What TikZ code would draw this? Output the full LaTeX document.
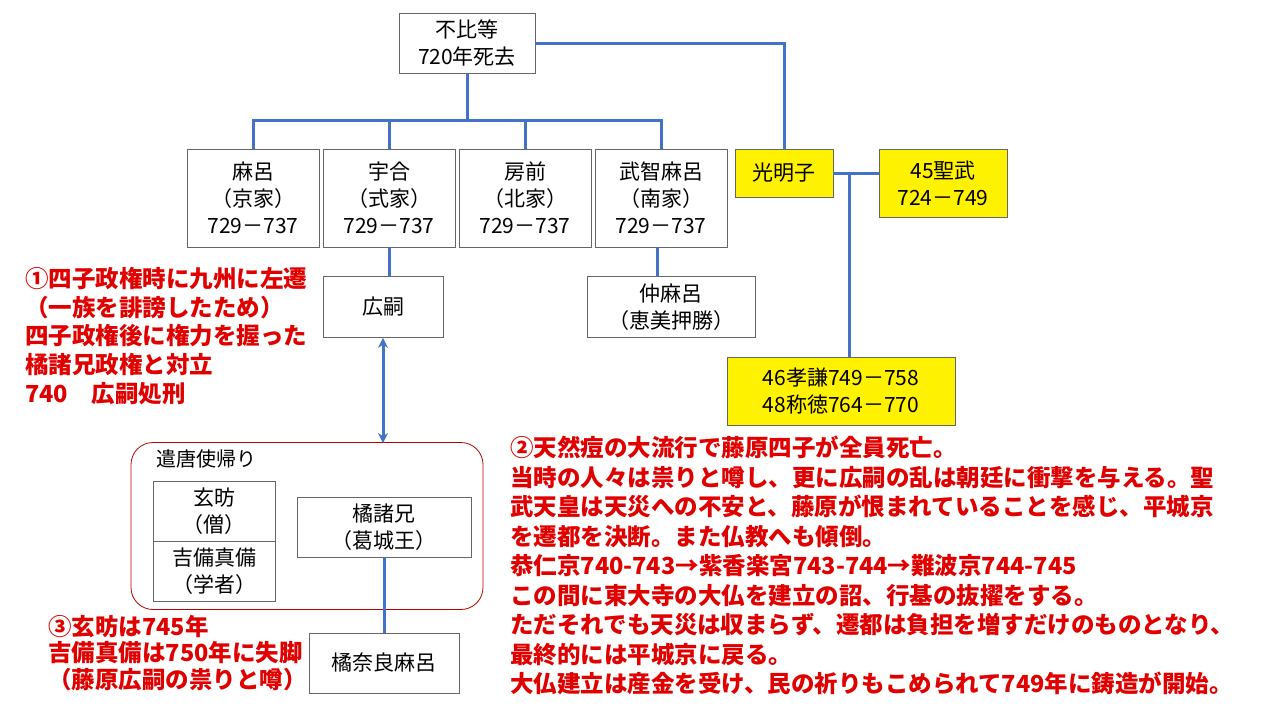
\documentclass[tikz,border=0pt]{standalone}
\usepackage{fontspec}
\setmainfont{Noto Sans CJK JP}
\usetikzlibrary{arrows.meta}
\definecolor{bl}{HTML}{4472C4}
\definecolor{rd}{HTML}{E00000}
\begin{document}
\begin{tikzpicture}[x=1pt,y=-1pt,
 box/.style={draw=black!60,line width=0.8pt,fill=white,align=center,font=\fontsize{21}{27}\selectfont,inner sep=0pt},
 ybox/.style={box,fill=yellow},
 ln/.style={bl,line width=3pt},
 rt/.style={rd,font=\bfseries\fontsize{23.5}{26.5}\selectfont,align=left,anchor=north west,inner sep=0pt}]
\useasboundingbox (0,0) rectangle (1280,720);
\node[box,minimum width=136,minimum height=60] (fh) at (467,43) {不比等\\720年死去};
\node[box,minimum width=132,minimum height=98] (ma) at (253,198) {麻呂\\（京家）\\729－737};
\node[box,minimum width=132,minimum height=98] (um) at (389,198) {宇合\\（式家）\\729－737};
\node[box,minimum width=132,minimum height=98] (fs) at (525,198) {房前\\（北家）\\729－737};
\node[box,minimum width=132,minimum height=98] (mc) at (661,198) {武智麻呂\\（南家）\\729－737};
\node[ybox,minimum width=98,minimum height=48] (km) at (784,173) {光明子};
\node[ybox,minimum width=128,minimum height=68] (sb) at (943,183) {45聖武\\724－749};
\node[box,minimum width=120,minimum height=61] (hs) at (383,307) {広嗣};
\node[box,minimum width=168,minimum height=61] (nk) at (671,307) {仲麻呂\\（恵美押勝）};
\node[ybox,minimum width=228,minimum height=68] (kk) at (841,391) {46孝謙749－758\\48称徳764－770};
\node[draw=rd!80!black,line width=0.8pt,rounded corners=22,minimum width=352,minimum height=167,inner sep=0] (kt) at (307,526) {};
\node[anchor=north west,font=\fontsize{20}{24}\selectfont,inner sep=0] (ktl) at (156,449) {遣唐使帰り};
\node[box,minimum width=122,minimum height=60] (gb) at (214,511) {玄昉\\（僧）};
\node[box,minimum width=122,minimum height=60] (kb) at (214,571) {吉備真備\\（学者）};
\node[box,minimum width=174,minimum height=60] (tm) at (384,527) {橘諸兄\\（葛城王）};
\node[box,minimum width=150,minimum height=60] (tn) at (384,663) {橘奈良麻呂};
\coordinate (j) at (467,120);
\draw[ln] (fh.south) -- (j);
\draw[ln] (ma.north) |- (j) -| (mc.north);
\draw[ln] (um.north) -- (um.north|-j);
\draw[ln] (fs.north) -- (fs.north|-j);
\draw[ln] (fh.east) -| (km.north);
\coordinate (sw) at (879,173);
\draw[ln] (km.east) -- (sw);
\coordinate (v) at (849,173);
\draw[ln] (v) -- (v|-kk.north);
\coordinate (hsn) at (389,277);
\coordinate (umb) at (389,247);
\draw[ln] (umb) -- (hsn);
\coordinate (nkn) at (657,277);
\coordinate (mcb) at (657,247);
\draw[ln] (mcb) -- (nkn);
\coordinate (kttop) at (383,443);
\draw[ln,{Stealth[length=10pt,width=10pt]}-{Stealth[length=10pt,width=10pt]}] (hs.south) -- (kttop);
\draw[ln] (tm.south) -- (tn.north);
\node[rt,font=\bfseries\fontsize{23.5}{28.7}\selectfont] (t1) at (25,267) {①四子政権時に九州に左遷\\（一族を誹謗したため）\\四子政権後に権力を握った\\橘諸兄政権と対立\\740　広嗣処刑};
\node[rt,font=\bfseries\fontsize{23.5}{29.5}\selectfont] (t2) at (510,436) {②天然痘の大流行で藤原四子が全員死亡。\\当時の人々は祟りと噂し、更に広嗣の乱は朝廷に衝撃を与える。聖\\武天皇は天災への不安と、藤原が恨まれていることを感じ、平城京\\を遷都を決断。また仏教へも傾倒。\\恭仁京740-743→紫香楽宮743-744→難波京744-745\\この間に東大寺の大仏を建立の詔、行基の抜擢をする。\\ただそれでも天災は収まらず、遷都は負担を増すだけのものとなり、\\最終的には平城京に戻る。\\大仏建立は産金を受け、民の祈りもこめられて749年に鋳造が開始。};
\node[rt] (t3) at (48,615) {③玄昉は745年\\吉備真備は750年に失脚\\（藤原広嗣の祟りと噂）};
\end{tikzpicture}
\end{document}
